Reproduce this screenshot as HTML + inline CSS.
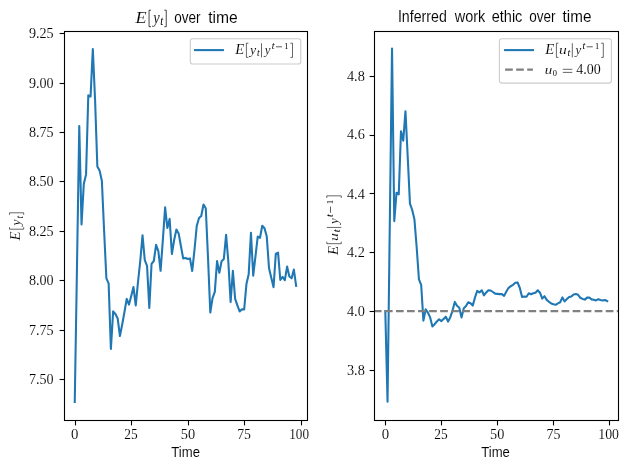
<!DOCTYPE html>
<html><head><meta charset="utf-8"><title>chart</title>
<style>html,body{margin:0;padding:0;background:#fff;}body{width:629px;height:470px;overflow:hidden;font-family:"Liberation Sans",sans-serif;}svg{display:block;will-change:transform;}</style>
</head><body>
<svg width="629" height="470" viewBox="0 0 629 470">
<rect width="629" height="470" fill="#fff"/>
<defs><clipPath id="c1"><rect x="64.5" y="31.5" width="243" height="389"/></clipPath><clipPath id="c2"><rect x="374.5" y="31.5" width="244" height="389"/></clipPath></defs>
<polyline clip-path="url(#c1)" points="74.75,402.0 77.01,265.0 79.27,126.1 81.53,224.5 83.79,184.0 86.05,174.4 88.30,95.3 90.56,96.5 92.82,49.0 95.08,100.0 97.34,166.5 99.60,170.6 101.86,180.8 104.12,231.0 106.38,278.3 108.63,283.4 110.89,349.0 113.15,311.4 115.41,314.0 117.67,318.4 119.93,336.0 122.19,324.5 124.45,312.0 126.71,298.9 128.97,304.6 131.22,296.0 133.48,287.1 135.74,305.4 138.00,282.0 140.26,261.0 142.52,235.3 144.78,260.1 147.04,265.8 149.30,307.9 151.56,263.8 153.81,261.0 156.07,244.9 158.33,251.0 160.59,270.8 162.85,240.0 165.11,207.4 167.37,227.9 169.63,218.9 171.89,254.0 174.15,240.0 176.41,229.5 178.66,233.4 180.92,246.0 183.18,258.4 185.44,257.9 187.70,259.0 189.96,258.4 192.22,271.0 194.48,250.0 196.74,226.0 199.00,218.0 201.25,216.0 203.51,204.5 205.77,208.3 208.03,258.0 210.29,312.5 212.55,298.2 214.81,291.8 217.07,261.1 219.33,272.8 221.58,261.2 223.84,259.0 226.10,234.8 228.36,262.0 230.62,301.9 232.88,270.8 235.14,298.8 237.40,305.4 239.66,311.5 241.92,309.3 244.17,309.5 246.43,284.1 248.69,274.3 250.95,232.8 253.21,275.6 255.47,256.3 257.73,236.6 259.99,237.8 262.25,225.8 264.51,228.3 266.76,236.5 269.02,268.3 271.28,277.8 273.54,287.2 275.80,254.0 278.06,252.6 280.32,280.0 282.58,276.9 284.84,280.2 287.10,266.6 289.36,276.5 291.61,278.3 293.87,269.6 296.13,285.8" fill="none" stroke="#1f77b4" stroke-width="2.08" stroke-linejoin="round" stroke-linecap="square"/>
<polyline clip-path="url(#c2)" points="385.30,311.0 387.54,401.7 389.78,225.0 392.03,48.6 394.27,221.1 396.51,192.7 398.75,194.3 400.99,131.2 403.24,140.7 405.48,111.2 407.72,157.0 409.96,203.6 412.20,210.0 414.45,219.6 416.69,247.5 418.93,279.3 421.17,284.8 423.41,320.6 425.66,309.3 427.90,312.6 430.14,317.4 432.38,326.5 434.62,324.2 436.87,321.5 439.11,319.3 441.35,321.1 443.59,318.9 445.83,316.7 448.08,321.6 450.32,317.2 452.56,310.6 454.80,301.9 457.04,305.8 459.29,307.7 461.53,317.5 463.77,308.2 466.01,306.0 468.25,302.3 470.50,303.2 472.74,305.6 474.98,297.5 477.22,290.9 479.46,292.4 481.71,290.3 483.95,295.3 486.19,292.4 488.43,290.3 490.67,290.5 492.92,292.0 495.16,293.7 497.40,293.9 499.64,294.1 501.88,294.1 504.13,295.9 506.37,291.5 508.61,287.8 510.85,286.2 513.09,284.8 515.34,282.8 517.58,282.4 519.82,288.0 522.06,297.0 524.30,296.5 526.55,296.8 528.79,293.3 531.03,294.3 533.27,293.2 535.51,292.7 537.76,290.3 540.00,292.7 542.24,298.6 544.48,296.2 546.72,299.9 548.97,301.8 551.21,303.4 553.45,304.2 555.69,304.8 557.93,303.4 560.18,302.3 562.42,297.4 564.66,301.4 566.90,299.0 569.14,296.9 571.39,296.4 573.63,294.5 575.87,294.1 578.11,294.8 580.35,297.8 582.60,298.9 584.84,299.6 587.08,297.6 589.32,297.5 591.56,299.4 593.81,299.7 596.05,300.4 598.29,299.3 600.53,300.1 602.77,300.6 605.02,300.0 607.26,301.2" fill="none" stroke="#1f77b4" stroke-width="2.08" stroke-linejoin="round" stroke-linecap="square"/>
<line clip-path="url(#c2)" x1="373.9" x2="619" y1="311.1" y2="311.1" stroke="#808080" stroke-width="2.08" stroke-dasharray="7.7 3.34"/>
<rect x="64.5" y="31.5" width="243.0" height="389.0" fill="none" stroke="#000" stroke-width="1.1"/>
<rect x="374.5" y="31.5" width="244.0" height="389.0" fill="none" stroke="#000" stroke-width="1.1"/>
<line x1="75.5" x2="75.5" y1="420.5" y2="425.4" stroke="#000" stroke-width="1.1"/>
<line x1="131.5" x2="131.5" y1="420.5" y2="425.4" stroke="#000" stroke-width="1.1"/>
<line x1="188.5" x2="188.5" y1="420.5" y2="425.4" stroke="#000" stroke-width="1.1"/>
<line x1="244.5" x2="244.5" y1="420.5" y2="425.4" stroke="#000" stroke-width="1.1"/>
<line x1="301.5" x2="301.5" y1="420.5" y2="425.4" stroke="#000" stroke-width="1.1"/>
<line x1="385.5" x2="385.5" y1="420.5" y2="425.4" stroke="#000" stroke-width="1.1"/>
<line x1="441.5" x2="441.5" y1="420.5" y2="425.4" stroke="#000" stroke-width="1.1"/>
<line x1="497.5" x2="497.5" y1="420.5" y2="425.4" stroke="#000" stroke-width="1.1"/>
<line x1="553.5" x2="553.5" y1="420.5" y2="425.4" stroke="#000" stroke-width="1.1"/>
<line x1="609.5" x2="609.5" y1="420.5" y2="425.4" stroke="#000" stroke-width="1.1"/>
<line x1="59.6" x2="64.5" y1="33.5" y2="33.5" stroke="#000" stroke-width="1.1"/>
<line x1="59.6" x2="64.5" y1="83.5" y2="83.5" stroke="#000" stroke-width="1.1"/>
<line x1="59.6" x2="64.5" y1="132.5" y2="132.5" stroke="#000" stroke-width="1.1"/>
<line x1="59.6" x2="64.5" y1="181.5" y2="181.5" stroke="#000" stroke-width="1.1"/>
<line x1="59.6" x2="64.5" y1="231.5" y2="231.5" stroke="#000" stroke-width="1.1"/>
<line x1="59.6" x2="64.5" y1="280.5" y2="280.5" stroke="#000" stroke-width="1.1"/>
<line x1="59.6" x2="64.5" y1="330.5" y2="330.5" stroke="#000" stroke-width="1.1"/>
<line x1="59.6" x2="64.5" y1="379.5" y2="379.5" stroke="#000" stroke-width="1.1"/>
<line x1="369.6" x2="374.5" y1="76.5" y2="76.5" stroke="#000" stroke-width="1.1"/>
<line x1="369.6" x2="374.5" y1="135.5" y2="135.5" stroke="#000" stroke-width="1.1"/>
<line x1="369.6" x2="374.5" y1="193.5" y2="193.5" stroke="#000" stroke-width="1.1"/>
<line x1="369.6" x2="374.5" y1="252.5" y2="252.5" stroke="#000" stroke-width="1.1"/>
<line x1="369.6" x2="374.5" y1="311.5" y2="311.5" stroke="#000" stroke-width="1.1"/>
<line x1="369.6" x2="374.5" y1="370.5" y2="370.5" stroke="#000" stroke-width="1.1"/>
<text transform="translate(70.90,438.80) scale(1.0698,1)" font-family='"Liberation Serif", serif' font-style="normal" font-size="13.83" fill="#000" stroke="#fff" stroke-width="0.1">0</text>
<text transform="translate(124.30,438.80) scale(0.9642,1)" font-family='"Liberation Serif", serif' font-style="normal" font-size="13.90" fill="#000" stroke="#fff" stroke-width="0.1">25</text>
<text transform="translate(180.80,438.80) scale(1.0409,1)" font-family='"Liberation Serif", serif' font-style="normal" font-size="13.83" fill="#000" stroke="#fff" stroke-width="0.1">50</text>
<text transform="translate(237.20,438.80) scale(0.9825,1)" font-family='"Liberation Serif", serif' font-style="normal" font-size="14.05" fill="#000" stroke="#fff" stroke-width="0.1">75</text>
<text transform="translate(289.20,438.80) scale(0.9541,1)" font-family='"Liberation Serif", serif' font-style="normal" font-size="13.83" fill="#000" stroke="#fff" stroke-width="0.1">100</text>
<text transform="translate(381.70,438.80) scale(1.0698,1)" font-family='"Liberation Serif", serif' font-style="normal" font-size="13.83" fill="#000" stroke="#fff" stroke-width="0.1">0</text>
<text transform="translate(434.20,438.80) scale(0.9642,1)" font-family='"Liberation Serif", serif' font-style="normal" font-size="13.90" fill="#000" stroke="#fff" stroke-width="0.1">25</text>
<text transform="translate(490.00,438.80) scale(1.0336,1)" font-family='"Liberation Serif", serif' font-style="normal" font-size="13.83" fill="#000" stroke="#fff" stroke-width="0.1">50</text>
<text transform="translate(546.50,438.80) scale(0.9967,1)" font-family='"Liberation Serif", serif' font-style="normal" font-size="14.05" fill="#000" stroke="#fff" stroke-width="0.1">75</text>
<text transform="translate(598.30,438.80) scale(0.9975,1)" font-family='"Liberation Serif", serif' font-style="normal" font-size="13.83" fill="#000" stroke="#fff" stroke-width="0.1">100</text>
<text transform="translate(28.90,37.90) scale(1.0197,1)" font-family='"Liberation Serif", serif' font-style="normal" font-size="13.90" fill="#000" stroke="#fff" stroke-width="0.1">9.25</text>
<text transform="translate(28.90,87.50) scale(1.0243,1)" font-family='"Liberation Serif", serif' font-style="normal" font-size="13.83" fill="#000" stroke="#fff" stroke-width="0.1">9.00</text>
<text transform="translate(28.90,137.00) scale(1.0243,1)" font-family='"Liberation Serif", serif' font-style="normal" font-size="13.83" fill="#000" stroke="#fff" stroke-width="0.1">8.75</text>
<text transform="translate(28.90,186.00) scale(1.0243,1)" font-family='"Liberation Serif", serif' font-style="normal" font-size="13.83" fill="#000" stroke="#fff" stroke-width="0.1">8.50</text>
<text transform="translate(28.90,235.60) scale(1.0243,1)" font-family='"Liberation Serif", serif' font-style="normal" font-size="13.83" fill="#000" stroke="#fff" stroke-width="0.1">8.25</text>
<text transform="translate(28.90,285.00) scale(1.0243,1)" font-family='"Liberation Serif", serif' font-style="normal" font-size="13.83" fill="#000" stroke="#fff" stroke-width="0.1">8.00</text>
<text transform="translate(28.90,334.50) scale(1.0089,1)" font-family='"Liberation Serif", serif' font-style="normal" font-size="14.05" fill="#000" stroke="#fff" stroke-width="0.1">7.75</text>
<text transform="translate(28.90,383.90) scale(1.0243,1)" font-family='"Liberation Serif", serif' font-style="normal" font-size="13.83" fill="#000" stroke="#fff" stroke-width="0.1">7.50</text>
<text transform="translate(346.90,80.80) scale(1.0351,1)" font-family='"Liberation Serif", serif' font-style="normal" font-size="13.83" fill="#000" stroke="#fff" stroke-width="0.1">4.8</text>
<text transform="translate(346.90,138.80) scale(1.0304,1)" font-family='"Liberation Serif", serif' font-style="normal" font-size="13.90" fill="#000" stroke="#fff" stroke-width="0.1">4.6</text>
<text transform="translate(346.90,198.60) scale(1.0242,1)" font-family='"Liberation Serif", serif' font-style="normal" font-size="13.98" fill="#000" stroke="#fff" stroke-width="0.1">4.4</text>
<text transform="translate(346.90,257.40) scale(1.0304,1)" font-family='"Liberation Serif", serif' font-style="normal" font-size="13.90" fill="#000" stroke="#fff" stroke-width="0.1">4.2</text>
<text transform="translate(346.90,315.60) scale(1.0351,1)" font-family='"Liberation Serif", serif' font-style="normal" font-size="13.83" fill="#000" stroke="#fff" stroke-width="0.1">4.0</text>
<text transform="translate(346.90,374.60) scale(1.0351,1)" font-family='"Liberation Serif", serif' font-style="normal" font-size="13.83" fill="#000" stroke="#fff" stroke-width="0.1">3.8</text>
<text transform="translate(171.30,456.80) scale(0.9523,1)" font-family='"Liberation Sans", sans-serif' font-style="normal" font-size="13.79" fill="#000" stroke="#fff" stroke-width="0.08">Time</text>
<text transform="translate(481.20,456.80) scale(0.9523,1)" font-family='"Liberation Sans", sans-serif' font-style="normal" font-size="13.79" fill="#000" stroke="#fff" stroke-width="0.08">Time</text>
<text transform="translate(397.90,21.60) scale(0.9025,1)" font-family='"Liberation Sans", sans-serif' font-style="normal" font-size="15.72" fill="#000" stroke="#fff" stroke-width="0.08">Inferred</text>
<text transform="translate(454.73,21.60) scale(0.9201,1)" font-family='"Liberation Sans", sans-serif' font-style="normal" font-size="15.72" fill="#000" stroke="#fff" stroke-width="0.08">work</text>
<text transform="translate(491.70,21.60) scale(0.9244,1)" font-family='"Liberation Sans", sans-serif' font-style="normal" font-size="15.72" fill="#000" stroke="#fff" stroke-width="0.08">ethic</text>
<text transform="translate(529.30,21.60) scale(0.8599,1)" font-family='"Liberation Sans", sans-serif' font-style="normal" font-size="15.72" fill="#000" stroke="#fff" stroke-width="0.08">over</text>
<text transform="translate(562.60,21.60) scale(0.9696,1)" font-family='"Liberation Sans", sans-serif' font-style="normal" font-size="15.72" fill="#000" stroke="#fff" stroke-width="0.08">time</text>
<text transform="translate(174.20,22.60) scale(0.8632,1)" font-family='"Liberation Sans", sans-serif' font-style="normal" font-size="15.72" fill="#000" stroke="#fff" stroke-width="0.08">over</text>
<text transform="translate(208.20,22.60) scale(0.9965,1)" font-family='"Liberation Sans", sans-serif' font-style="normal" font-size="15.72" fill="#000" stroke="#fff" stroke-width="0.08">time</text>
<text transform="translate(135.42,22.70) scale(1.0421,1)" font-family='"Liberation Serif", serif' font-style="italic" font-size="17.40" fill="#000" stroke="#fff" stroke-width="0.1">E</text>
<path d="M151.00,10.20 H149.06 V26.70 H151.00" fill="none" stroke="#000" stroke-width="0.72"/>
<text transform="translate(153.22,22.70) scale(0.9279,1)" font-family='"Liberation Serif", serif' font-style="italic" font-size="15.69" fill="#000" stroke="#fff" stroke-width="0.1">y</text>
<text transform="translate(160.20,25.20) scale(0.8891,1)" font-family='"Liberation Serif", serif' font-style="italic" font-size="12.08" fill="#000" stroke="#fff" stroke-width="0">t</text>
<path d="M164.30,10.20 H166.24 V26.70 H164.30" fill="none" stroke="#000" stroke-width="0.72"/>
<rect x="190.3" y="38.7" width="110.5" height="25.3" rx="2.6" fill="#fff" fill-opacity="0.8" stroke="#ccc" stroke-width="1.1"/>
<line x1="195.1" x2="222.9" y1="50.1" y2="50.1" stroke="#1f77b4" stroke-width="2.08" stroke-linecap="square"/>
<g transform="translate(235.0,53.8)"><text transform="translate(0.18,0.00) scale(1.0290,1)" font-family='"Liberation Serif", serif' font-style="italic" font-size="14.35" fill="#000" stroke="#fff" stroke-width="0.1">E</text><path d="M13.40,-10.60 H11.40 V3.60 H13.40" fill="none" stroke="#000" stroke-width="0.6"/><text transform="translate(15.06,0.00) scale(1.0736,1)" font-family='"Liberation Serif", serif' font-style="italic" font-size="12.85" fill="#000" stroke="#fff" stroke-width="0.1">y</text><text transform="translate(22.00,2.60) scale(0.8966,1)" font-family='"Liberation Serif", serif' font-style="italic" font-size="10.48" fill="#000" stroke="#fff" stroke-width="0">t</text><path d="M26.50,-10.60 V3.60" fill="none" stroke="#000" stroke-width="0.6"/><text transform="translate(29.78,0.00) scale(1.0000,1)" font-family='"Liberation Serif", serif' font-style="italic" font-size="12.85" fill="#000" stroke="#fff" stroke-width="0.1">y</text><text transform="translate(36.80,-4.90) scale(0.9446,1)" font-family='"Liberation Serif", serif' font-style="italic" font-size="10.66" fill="#000" stroke="#fff" stroke-width="0">t</text><path d="M40.90,-7.00 H47.00" stroke="#000" stroke-width="0.65" fill="none"/><text transform="translate(49.20,-4.90) scale(0.9240,1)" font-family='"Liberation Serif", serif' font-style="normal" font-size="9.09" fill="#000" stroke="#fff" stroke-width="0">1</text><path d="M55.40,-10.60 H57.50 V3.60 H55.40" fill="none" stroke="#000" stroke-width="0.6"/></g>
<rect x="499.4" y="38.7" width="112.0" height="44.4" rx="2.6" fill="#fff" fill-opacity="0.8" stroke="#ccc" stroke-width="1.1"/>
<line x1="505.1" x2="532.9" y1="50.1" y2="50.1" stroke="#1f77b4" stroke-width="2.08" stroke-linecap="square"/>
<line x1="505.1" x2="532.9" y1="69.6" y2="69.6" stroke="#808080" stroke-width="2.08" stroke-dasharray="7.7 3.34"/>
<g transform="translate(545.0,53.8)"><text transform="translate(0.18,0.00) scale(1.0290,1)" font-family='"Liberation Serif", serif' font-style="italic" font-size="14.35" fill="#000" stroke="#fff" stroke-width="0.1">E</text><path d="M13.40,-10.60 H11.40 V3.60 H13.40" fill="none" stroke="#000" stroke-width="0.6"/><text transform="translate(14.10,0.00) scale(1.2136,1)" font-family='"Liberation Serif", serif' font-style="italic" font-size="12.85" fill="#000" stroke="#fff" stroke-width="0.1">u</text><text transform="translate(22.60,2.60) scale(0.9606,1)" font-family='"Liberation Serif", serif' font-style="italic" font-size="10.48" fill="#000" stroke="#fff" stroke-width="0">t</text><path d="M27.30,-10.60 V3.60" fill="none" stroke="#000" stroke-width="0.6"/><text transform="translate(30.58,0.00) scale(1.0000,1)" font-family='"Liberation Serif", serif' font-style="italic" font-size="12.85" fill="#000" stroke="#fff" stroke-width="0.1">y</text><text transform="translate(37.60,-4.90) scale(0.9446,1)" font-family='"Liberation Serif", serif' font-style="italic" font-size="10.66" fill="#000" stroke="#fff" stroke-width="0">t</text><path d="M41.70,-7.00 H47.80" stroke="#000" stroke-width="0.65" fill="none"/><text transform="translate(50.00,-4.90) scale(0.9240,1)" font-family='"Liberation Serif", serif' font-style="normal" font-size="9.09" fill="#000" stroke="#fff" stroke-width="0">1</text><path d="M56.20,-10.60 H58.30 V3.60 H56.20" fill="none" stroke="#000" stroke-width="0.6"/></g>
<text transform="translate(544.70,73.60) scale(1.1669,1)" font-family='"Liberation Serif", serif' font-style="italic" font-size="12.85" fill="#000" stroke="#fff" stroke-width="0.1">u</text>
<text transform="translate(552.80,76.30) scale(0.9157,1)" font-family='"Liberation Serif", serif' font-style="normal" font-size="9.17" fill="#000" stroke="#fff" stroke-width="0">0</text>
<path d="M562.8,69.3 H572.3 M562.8,72.4 H572.3" stroke="#000" stroke-width="0.6" fill="none"/>
<text transform="translate(576.20,73.60) scale(1.0344,1)" font-family='"Liberation Serif", serif' font-style="normal" font-size="13.53" fill="#000" stroke="#fff" stroke-width="0.1">4.00</text>
<g transform="translate(20.1,240.6) rotate(-90)"><text transform="translate(0.18,0.00) scale(1.0290,1)" font-family='"Liberation Serif", serif' font-style="italic" font-size="14.35" fill="#000" stroke="#fff" stroke-width="0.1">E</text><path d="M13.40,-10.60 H11.40 V3.60 H13.40" fill="none" stroke="#000" stroke-width="0.6"/><text transform="translate(15.06,0.00) scale(1.0736,1)" font-family='"Liberation Serif", serif' font-style="italic" font-size="12.85" fill="#000" stroke="#fff" stroke-width="0.1">y</text><text transform="translate(22.00,2.60) scale(0.8966,1)" font-family='"Liberation Serif", serif' font-style="italic" font-size="10.48" fill="#000" stroke="#fff" stroke-width="0">t</text><path d="M25.80,-10.60 H27.80 V3.60 H25.80" fill="none" stroke="#000" stroke-width="0.6"/></g>
<g transform="translate(337.6,255.3) rotate(-90)"><text transform="translate(0.18,0.00) scale(1.0290,1)" font-family='"Liberation Serif", serif' font-style="italic" font-size="14.64" fill="#000" stroke="#fff" stroke-width="0.1">E</text><path d="M13.67,-10.81 H11.62 V3.67 H13.67" fill="none" stroke="#000" stroke-width="0.6"/><text transform="translate(14.38,0.00) scale(1.2136,1)" font-family='"Liberation Serif", serif' font-style="italic" font-size="13.11" fill="#000" stroke="#fff" stroke-width="0.1">u</text><text transform="translate(23.05,2.65) scale(0.9606,1)" font-family='"Liberation Serif", serif' font-style="italic" font-size="10.69" fill="#000" stroke="#fff" stroke-width="0">t</text><path d="M27.85,-10.81 V3.67" fill="none" stroke="#000" stroke-width="0.6"/><text transform="translate(31.19,0.00) scale(1.0000,1)" font-family='"Liberation Serif", serif' font-style="italic" font-size="13.11" fill="#000" stroke="#fff" stroke-width="0.1">y</text><text transform="translate(38.35,-5.00) scale(0.9446,1)" font-family='"Liberation Serif", serif' font-style="italic" font-size="10.87" fill="#000" stroke="#fff" stroke-width="0">t</text><path d="M42.53,-7.14 H48.76" stroke="#000" stroke-width="0.65" fill="none"/><text transform="translate(51.00,-5.00) scale(0.9240,1)" font-family='"Liberation Serif", serif' font-style="normal" font-size="9.27" fill="#000" stroke="#fff" stroke-width="0">1</text><path d="M57.32,-10.81 H59.47 V3.67 H57.32" fill="none" stroke="#000" stroke-width="0.6"/></g>
</svg>
</body></html>
